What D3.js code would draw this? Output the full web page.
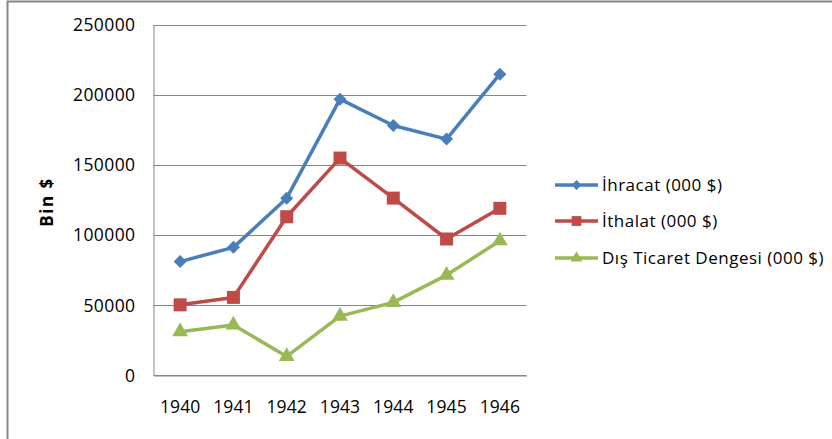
<!DOCTYPE html>
<html>
<head>
<meta charset="utf-8">
<script src="https://cdn.jsdelivr.net/npm/d3@7"></script>
<style>
  body { margin:0; background:#fff; }
  text { font-family:'Open Sans', sans-serif; fill:#000; }
</style>
</head>
<body>
<div id="chart"></div>
<script>
//data
const YEARS = ['1940','1941','1942','1943','1944','1945','1946'];
const IHRACAT = [80904, 91056, 126115, 196734, 177986, 168264, 214600];
const ITHALAT = [50035, 55349, 112880, 154720, 126172, 97002, 118880];
const DENGE = [30869, 35707, 13235, 42014, 51814, 71262, 95720];
const Y_TICKS = [0, 50000, 100000, 150000, 200000, 250000];
const SERIES_NAMES = ['İhracat (000 $)', 'İthalat (000 $)', 'Dış Ticaret Dengesi (000 $)'];

const CONSTANTS = {
    WIDTH:832,
    HEIGHT:439,
    PLOT_LEFT:153.5,
    PLOT_RIGHT:526.5,
    PLOT_TOP:24.5,
    PLOT_BOTTOM:375,
    GRID:'#868686',
    FONT:17.5
};

const series = [
    {name:SERIES_NAMES[0], values:IHRACAT, color:'#4a7ebb', marker:'diamond'},
    {name:SERIES_NAMES[1], values:ITHALAT, color:'#be4b48', marker:'square'},
    {name:SERIES_NAMES[2], values:DENGE, color:'#98b954', marker:'triangle'}
];

let svg = d3.select('#chart').append('svg')
    .attr('width',CONSTANTS.WIDTH)
    .attr('height',CONSTANTS.HEIGHT);

//outer border
svg.append('rect')
    .attr('x',7.5).attr('y',1.5)
    .attr('width',CONSTANTS.WIDTH).attr('height',CONSTANTS.HEIGHT)
    .attr('fill','none').attr('stroke','#868686').attr('stroke-width',2);

//scales
let x = d3.scaleBand().domain(YEARS).range([CONSTANTS.PLOT_LEFT,CONSTANTS.PLOT_RIGHT]);
let y = d3.scaleLinear().domain([0,250000]).range([CONSTANTS.PLOT_BOTTOM,CONSTANTS.PLOT_TOP]);
let cx = d => x(d) + x.bandwidth()/2;

//gridlines
svg.append('g').selectAll('line')
    .data(Y_TICKS)
    .enter().append('line')
    .attr('x1',CONSTANTS.PLOT_LEFT).attr('x2',CONSTANTS.PLOT_RIGHT)
    .attr('y1',d=>Math.round(y(d))+0.5).attr('y2',d=>Math.round(y(d))+0.5)
    .attr('stroke',CONSTANTS.GRID).attr('stroke-width',1);

//y axis
let yAxis = d3.axisLeft(y).tickValues(Y_TICKS).tickSize(0).tickPadding(18).tickFormat(d3.format('d'));
let gy = svg.append('g').attr('transform','translate('+CONSTANTS.PLOT_LEFT+',0)').call(yAxis);
gy.select('.domain').attr('stroke',CONSTANTS.GRID);
gy.selectAll('text').style('font-size',CONSTANTS.FONT+'px').attr('letter-spacing','0.4px').attr('dy','0.35em');

//x axis
let xAxis = d3.axisBottom(x).tickSize(0).tickPadding(25);
let gx = svg.append('g').attr('transform','translate(0,'+(CONSTANTS.PLOT_BOTTOM+0.5)+')').call(xAxis);
gx.select('.domain').attr('stroke',CONSTANTS.GRID);
gx.selectAll('text').style('font-size',CONSTANTS.FONT+'px').attr('letter-spacing','0.1px');

//y label
svg.append('text')
    .attr('transform','translate(53,202) rotate(-90)')
    .attr('text-anchor','middle')
    .style('font-size','17px')
    .style('font-weight','bold')
    .attr('letter-spacing','1.5px')
    .text('Bin $');

//marker shapes
function markerPath(type,size){
    if(type==='diamond') return d3.symbol().type(d3.symbolDiamond2).size(size*size*0.55)();
    if(type==='square') return d3.symbol().type(d3.symbolSquare).size(size*size)();
    return d3.symbol().type(d3.symbolTriangle).size(size*size*0.48)();
}
let markerSize = {diamond:14, square:13, triangle:15};

let line = d3.line().x((d,i)=>cx(YEARS[i])).y(d=>y(d));

series.forEach(s=>{
    let g = svg.append('g');
    g.append('path')
        .datum(s.values)
        .attr('d',line)
        .attr('fill','none')
        .attr('stroke',s.color)
        .attr('stroke-width',3.5)
        .attr('stroke-linejoin','round');
    g.selectAll('path.m')
        .data(s.values)
        .enter().append('path')
        .attr('class','m')
        .attr('d',markerPath(s.marker,markerSize[s.marker]))
        .attr('transform',(d,i)=>'translate('+cx(YEARS[i])+','+y(d)+')')
        .attr('fill',s.color);
});

//legend
let legendY = [185,221,258];
series.forEach((s,i)=>{
    let g = svg.append('g').attr('transform','translate(555,'+legendY[i]+')');
    g.append('line').attr('x1',0).attr('x2',43).attr('y1',0).attr('y2',0)
        .attr('stroke',s.color).attr('stroke-width',3.5);
    g.append('path')
        .attr('d',markerPath(s.marker,markerSize[s.marker]*0.75))
        .attr('transform','translate(21.5,0)')
        .attr('fill',s.color);
    g.append('text').attr('x',47).attr('dy','0.35em')
        .style('font-size','17px')
        .attr('letter-spacing','0.5px')
        .text(s.name);
});
</script>
</body>
</html>
